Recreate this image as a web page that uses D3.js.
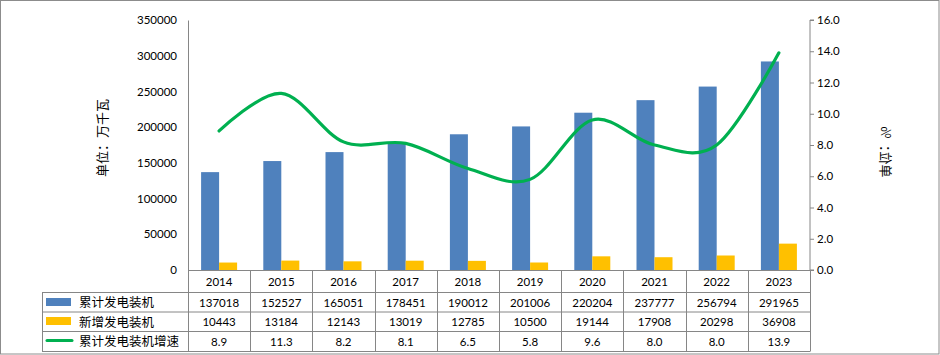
<!DOCTYPE html>
<html><head><meta charset="utf-8">
<script src="https://cdn.jsdelivr.net/npm/d3@7"></script>
<style>
html,body{margin:0;padding:0;background:#fff;}
svg text{font-family:Lato,"Noto Sans CJK SC",sans-serif;fill:#000;}
</style></head>
<body><svg id="c" width="940" height="355"></svg>
<script>
const years = ["2014","2015","2016","2017","2018","2019","2020","2021","2022","2023"];
const cumulative = [137018,152527,165051,178451,190012,201006,220204,237777,256794,291965];
const added = [10443,13184,12143,13019,12785,10500,19144,17908,20298,36908];
const growth = [8.9,11.3,8.2,8.1,6.5,5.8,9.6,8.0,8.0,13.9];
const growthLabels = ["8.9","11.3","8.2","8.1","6.5","5.8","9.6","8.0","8.0","13.9"];
const leftTicks = [0,50000,100000,150000,200000,250000,300000,350000];
const rightTicks = [0,2,4,6,8,10,12,14,16];
const seriesNames = ["累计发电装机","新增发电装机","累计发电装机增速"];
const leftTitle = "单位：万千瓦";
const rightTitle = "单位：%";

const svg = d3.select("#c");
const L = 188, R = 810, T = 20, B = 270;
const gridC = "#868686";
const blue = "#4F81BD", orange = "#FFC000", green = "#00B050";

svg.append("rect").attr("x",0.5).attr("y",0.5).attr("width",938.5).attr("height",353.5)
  .attr("fill","#fff").attr("stroke","#8c8c8c").attr("stroke-width",1);

const x = d3.scaleBand().domain(years).range([L,R]).padding(0);
const yL = d3.scaleLinear().domain([0,350000]).range([B,T]);
const yR = d3.scaleLinear().domain([0,16]).range([B,T]);
const bw = 18;

// bars
svg.append("g").selectAll("rect").data(years).join("rect")
  .attr("x",(d)=>x(d)+x.bandwidth()/2-bw).attr("width",bw)
  .attr("y",(d,i)=>yL(cumulative[i])).attr("height",(d,i)=>B-yL(cumulative[i]))
  .attr("fill",blue);
svg.append("g").selectAll("rect").data(years).join("rect")
  .attr("x",(d)=>x(d)+x.bandwidth()/2).attr("width",bw)
  .attr("y",(d,i)=>yL(added[i])).attr("height",(d,i)=>B-yL(added[i]))
  .attr("fill",orange);

// left axis
const gl = svg.append("g").attr("transform",`translate(${L},0)`)
  .call(d3.axisLeft(yL).tickValues(leftTicks).tickSize(0).tickPadding(11).tickFormat(d3.format("d")));
gl.select(".domain").attr("stroke",gridC);
gl.selectAll("text").style("font-size","11.5px");

// right axis
const gr = svg.append("g").attr("transform",`translate(${R},0)`)
  .call(d3.axisRight(yR).tickValues(rightTicks).tickSize(4).tickPadding(3).tickFormat(d3.format(".1f")));
gr.select(".domain").attr("stroke",gridC).attr("d",`M4,${T}H0V${B}H4`);
gr.selectAll("line").attr("stroke",gridC);
gr.selectAll("text").style("font-size","11.5px");

// line
const line = d3.line().x((d,i)=>x(years[i])+x.bandwidth()/2).y(d=>yR(d)).curve(d3.curveCardinal.tension(0));
svg.append("path").datum(growth).attr("d",line).attr("fill","none")
  .attr("stroke",green).attr("stroke-width",3.2).attr("stroke-linecap","round");

// axis titles
svg.append("text").attr("transform","translate(107,138) rotate(-90)")
  .attr("text-anchor","middle").style("font-size","13px").style("font-family","'Noto Sans CJK SC'").text(leftTitle);
svg.append("text").attr("transform","translate(881,152) scale(-1,1) rotate(-90)")
  .attr("text-anchor","middle").style("font-size","13px").style("font-family","'Noto Sans CJK SC'").text(rightTitle);

// data table
const rows = [292, 311.5, 331, 351];
const tg = svg.append("g");
tg.append("line").attr("x1",L).attr("x2",R).attr("y1",B+0.5).attr("y2",B+0.5).attr("stroke",gridC);
rows.forEach(r=>{
  tg.append("line").attr("x1",42).attr("x2",R).attr("y1",r+0.5).attr("y2",r+0.5).attr("stroke",gridC);
});
tg.append("line").attr("x1",42.5).attr("x2",42.5).attr("y1",292).attr("y2",351.5).attr("stroke",gridC);
const bounds = years.map(d=>x(d)).concat([R]);
bounds.forEach(bx=>{
  const xx = Math.round(bx)+0.5;
  tg.append("line").attr("x1",xx).attr("x2",xx).attr("y1",B).attr("y2",351.5).attr("stroke",gridC);
});
// year labels
tg.selectAll("text.yr").data(years).join("text").attr("class","yr")
  .attr("x",d=>x(d)+x.bandwidth()/2).attr("y",(B+292)/2+1).attr("dy","0.35em")
  .attr("text-anchor","middle").style("font-size","11.5px").text(d=>d);
const rowData = [cumulative.map(String), added.map(String), growthLabels];
rowData.forEach((arr,ri)=>{
  const cy = (rows[ri]+rows[ri+1])/2+1;
  tg.selectAll(`text.r${ri}`).data(arr).join("text").attr("class",`r${ri}`)
    .attr("x",(d,i)=>x(years[i])+x.bandwidth()/2).attr("y",cy).attr("dy","0.35em")
    .attr("text-anchor","middle").style("font-size","11.5px").text(d=>d);
  tg.append("text").attr("x",79).attr("y",cy).attr("dy","0.35em")
    .style("font-size","12.5px").style("font-family","'Noto Sans CJK SC'").text(seriesNames[ri]);
});
// legend keys
tg.append("rect").attr("x",46).attr("y",298).attr("width",25).attr("height",8).attr("fill",blue);
tg.append("rect").attr("x",46).attr("y",317).attr("width",25).attr("height",8).attr("fill",orange);
tg.append("line").attr("x1",47).attr("x2",72).attr("y1",340.5).attr("y2",340.5)
  .attr("stroke",green).attr("stroke-width",3).attr("stroke-linecap","round");
</script></body></html>
